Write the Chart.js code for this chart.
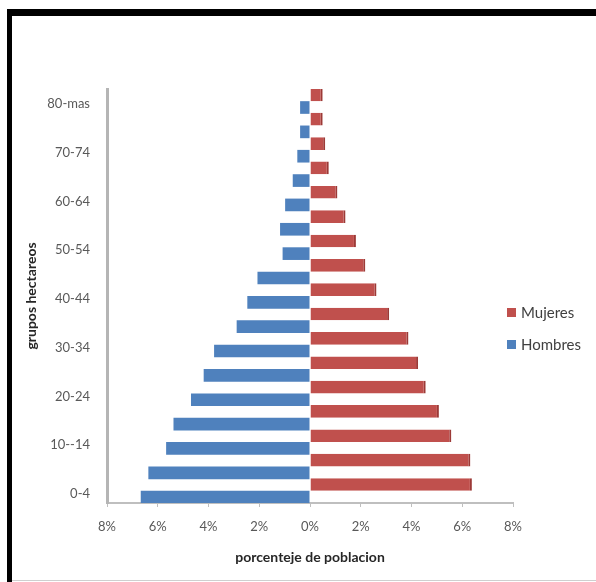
<!DOCTYPE html>
<html>
<head>
<meta charset="utf-8">
<script src="https://cdn.jsdelivr.net/npm/chart.js@4.4.1/dist/chart.umd.min.js"></script>
<style>
  html, body { margin: 0; padding: 0; background: #ffffff; }
  #wrap { position: relative; width: 596px; height: 582px; }
</style>
</head>
<body>
<div id="wrap"><canvas id="pyramidChart"></canvas></div>
<script>
// age groups, bottom to top
var categories = ["0-4", "5-9", "10--14", "15-19", "20-24", "25-29", "30-34", "35-39", "40-44",
                  "45-49", "50-54", "55-59", "60-64", "65-69", "70-74", "75-79", "80-mas"];
// percent of population
var mujeres = [6.38, 6.32, 5.57, 5.08, 4.56, 4.26, 3.88, 3.12, 2.62, 2.18, 1.81, 1.40, 1.08, 0.74, 0.60, 0.50, 0.50];
var hombres = [6.67, 6.37, 5.67, 5.38, 4.69, 4.19, 3.78, 2.89, 2.47, 2.07, 1.08, 1.18, 0.98, 0.68, 0.50, 0.39, 0.39];
var xTicks = [-8, -6, -4, -2, 0, 2, 4, 6, 8];

var textColor = "#595959";
var fontFamily = "Lato, 'Open Sans', sans-serif";

// black frame like the pasted picture
var framePlugin = {
    id: "frame",
    beforeDraw: function (chart) {
        var c = chart.ctx;
        c.save();
        c.fillStyle = "#ffffff";
        c.fillRect(0, 0, chart.width, chart.height);
        c.fillStyle = "#000000";
        c.fillRect(7, 9, chart.width - 7, 7);
        c.fillRect(7, 9, 5, chart.height - 9);
        c.fillStyle = "#cfcfcf";
        c.fillRect(12, chart.height - 2, chart.width - 12, 1);
        c.restore();
    }
};

// legend drawn inside the plot region, as in the original
var legendPlugin = {
    id: "sideLegend",
    afterDraw: function (chart) {
        var c = chart.ctx;
        c.save();
        c.font = "15px " + fontFamily;
        c.textBaseline = "middle";
        [0, 1].forEach(function (i) {
            var ds = chart.data.datasets[i];
            var y = 313 + i * 32;
            c.fillStyle = ds.backgroundColor;
            c.fillRect(507, y - 5, 9, 9);
            c.fillStyle = "#404040";
            c.fillText(ds.label, 521, y);
        });
        c.restore();
    }
};

var ctx = document.getElementById("pyramidChart").getContext("2d");
document.getElementById("pyramidChart").width = 596;
document.getElementById("pyramidChart").height = 582;

var pyramidChart = new Chart(ctx, {
    type: "bar",
    data: {
        labels: categories,
        datasets: [{
            label: "Mujeres",
            data: mujeres,
            backgroundColor: "#c0504d",
            borderColor: "#9c3a37",
            borderWidth: { right: 2, left: 0, top: 0, bottom: 0 },
            borderSkipped: false,
            categoryPercentage: 1.04,
            barPercentage: 1.0
        }, {
            label: "Hombres",
            data: hombres.map(function (v) { return -v; }),
            backgroundColor: "#4f81bd",
            borderWidth: 0,
            categoryPercentage: 1.04,
            barPercentage: 1.0
        }]
    },
    options: {
        indexAxis: "y",
        responsive: false,
        animation: false,
        layout: {
            padding: { top: 89, right: 83, bottom: 0, left: 13 }
        },
        plugins: {
            legend: { display: false },
            tooltip: { enabled: false }
        },
        scales: {
            x: {
                type: "linear",
                min: -8,
                max: 8,
                afterBuildTicks: function (scale) {
                    scale.ticks = xTicks.map(function (v) { return { value: v }; });
                },
                afterFit: function (scale) {
                    scale.height = 79;
                },
                ticks: {
                    color: textColor,
                    padding: 12,
                    font: { size: 13, family: fontFamily },
                    callback: function (value) {
                        return Math.abs(value) + "%";
                    }
                },
                grid: {
                    drawOnChartArea: false,
                    drawTicks: true,
                    tickLength: 4,
                    color: "#bfbfbf"
                },
                border: { color: "#bfbfbf", width: 2 },
                title: {
                    display: true,
                    text: "porcenteje de poblacion",
                    color: "#262626",
                    padding: { top: 0, bottom: 16 },
                    font: { size: 14, weight: "bold", family: fontFamily }
                }
            },
            y: {
                reverse: true,
                afterFit: function (scale) {
                    scale.width = 94;
                },
                ticks: {
                    color: textColor,
                    padding: 17,
                    labelOffset: 3,
                    autoSkip: false,
                    font: { size: 13, family: fontFamily },
                    callback: function (value, index) {
                        return index % 2 === 0 ? categories[index] : "";
                    }
                },
                grid: { display: false, drawTicks: false },
                border: { color: "#b5b5b5", width: 3 },
                title: {
                    display: true,
                    text: "grupos hectareos",
                    color: "#262626",
                    padding: { top: 10, bottom: 0 },
                    font: { size: 14, weight: "bold", family: fontFamily }
                }
            }
        }
    },
    plugins: [framePlugin, legendPlugin]
});
</script>
</body>
</html>
